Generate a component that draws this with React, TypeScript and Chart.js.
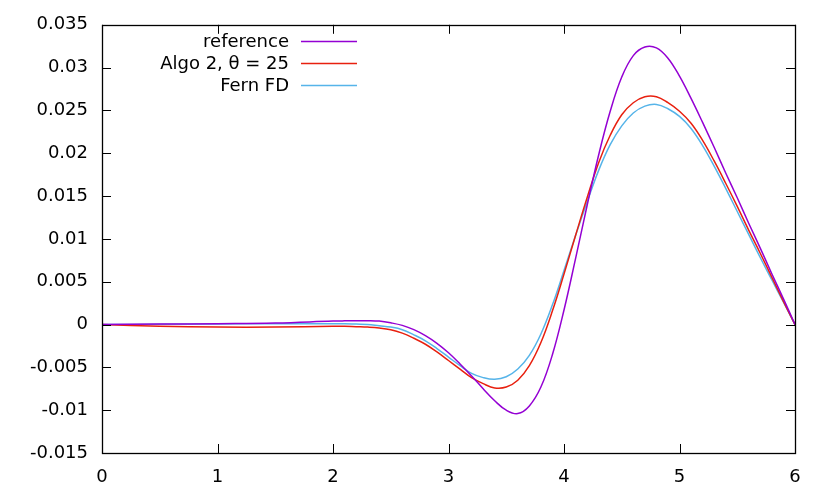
import React, { useEffect, useRef } from "react";
import { Chart, registerables } from "chart.js";

Chart.register(...registerables);

const xs = [0, 0.5, 1.0, 1.5, 2.0, 2.1, 2.2, 2.3, 2.4, 2.5, 2.6, 2.7, 2.8, 2.9, 3.0, 3.1, 3.2, 3.3, 3.4, 3.5, 3.6, 3.7, 3.8, 3.9, 4.0, 4.1, 4.2, 4.3, 4.4, 4.5, 4.6, 4.7, 4.8, 4.9, 5.0, 5.1, 5.2, 5.3, 5.4, 5.5, 5.6, 5.7, 5.8, 5.9, 6.0];

const referenceValues = [0, 0.00005, 0.0001, 0.00018, 0.0004, 0.00043, 0.00045, 0.00045, 0.0004, 0.0002, -0.0001, -0.0006, -0.0013, -0.0022, -0.0033, -0.0046, -0.006, -0.0075, -0.0089, -0.01, -0.0104, -0.0095, -0.0073, -0.0035, 0.0017, 0.0077, 0.0139, 0.0198, 0.0249, 0.0289, 0.0314, 0.0324, 0.0323, 0.0311, 0.029, 0.0264, 0.0236, 0.0207, 0.0177, 0.0148, 0.0118, 0.0089, 0.0059, 0.003, 0];

const algoValues = [0, -0.0002, -0.0003, -0.0003, -0.0002, -0.0002, -0.00025, -0.0003, -0.0004, -0.0006, -0.001, -0.0016, -0.0023, -0.0032, -0.0042, -0.0052, -0.0062, -0.0069, -0.0074, -0.0073, -0.0065, -0.0048, -0.0021, 0.0016, 0.0059, 0.0104, 0.0148, 0.0189, 0.0221, 0.0245, 0.0259, 0.0266, 0.0266, 0.0259, 0.0249, 0.0235, 0.0215, 0.0191, 0.0165, 0.0138, 0.011, 0.0083, 0.0055, 0.0027, 0];

const fernValues = [0, 0.00003, 0.00007, 0.0001, 0.0001, 0.0001, 0.00005, 0.0, -0.00015, -0.0003, -0.0006, -0.0012, -0.0019, -0.0028, -0.0038, -0.0048, -0.0057, -0.0062, -0.0064, -0.0061, -0.0052, -0.0036, -0.0011, 0.0023, 0.0063, 0.0104, 0.0143, 0.018, 0.021, 0.0232, 0.0247, 0.0255, 0.0257, 0.0252, 0.0243, 0.0229, 0.0209, 0.0185, 0.0159, 0.0132, 0.0105, 0.0078, 0.0052, 0.0026, 0];

const seriesLabels = ["reference", "Algo 2, θ = 25", "Fern FD"];
const seriesColors = ["#9400d3", "#e8200f", "#56b4e9"];

const xMin = 0;
const xMax = 6;
const xStep = 1;
const yMin = -0.015;
const yMax = 0.035;
const yStep = 0.005;

const FONT = "'DejaVu Sans', sans-serif";

const framePlugin = {
  id: "gnuFrame",
  afterDraw(chart: any) {
    const { ctx, chartArea } = chart;
    const { left, right, top, bottom } = chartArea;
    const xs_ = chart.scales.x;
    const ys_ = chart.scales.y;
    ctx.save();
    ctx.strokeStyle = "#000";
    ctx.lineWidth = 1;
    const tl = 9;
    ctx.beginPath();
    xs_.ticks.forEach((t: any) => {
      const px = Math.round(xs_.getPixelForValue(t.value)) + 0.5;
      ctx.moveTo(px, bottom);
      ctx.lineTo(px, bottom - tl);
      ctx.moveTo(px, top);
      ctx.lineTo(px, top + tl);
    });
    ys_.ticks.forEach((t: any) => {
      const py = Math.round(ys_.getPixelForValue(t.value)) + 0.5;
      ctx.moveTo(left, py);
      ctx.lineTo(left + tl, py);
      ctx.moveTo(right, py);
      ctx.lineTo(right - tl, py);
    });
    ctx.stroke();
    ctx.lineWidth = 1.3;
    ctx.strokeRect(Math.round(left) + 0.5, Math.round(top) + 0.5, Math.round(right - left), Math.round(bottom - top));

    // legend
    ctx.font = `18px ${FONT}`;
    ctx.textAlign = "right";
    ctx.textBaseline = "middle";
    chart.data.datasets.forEach((ds: any, i: number) => {
      const y = 41 + i * 22;
      ctx.fillStyle = "#000";
      ctx.fillText(ds.label, 289, y + 1);
      ctx.strokeStyle = ds.borderColor;
      ctx.lineWidth = 1.5;
      ctx.beginPath();
      ctx.moveTo(301, y + 0.5);
      ctx.lineTo(357, y + 0.5);
      ctx.stroke();
    });
    ctx.restore();
  },
};

export default function App() {
  const ref = useRef<HTMLCanvasElement | null>(null);
  useEffect(() => {
    if (!ref.current) return;
    const seriesValues = [referenceValues, algoValues, fernValues];
    const chart = new Chart(ref.current, {
      type: "line",
      data: {
        datasets: seriesValues.map((vals, i) => ({
          label: seriesLabels[i],
          data: xs.map((x, j) => ({ x, y: vals[j] })),
          borderColor: seriesColors[i],
          backgroundColor: seriesColors[i],
          borderWidth: 1.5,
          pointRadius: 0,
          tension: 0.4,
          fill: false,
        })),
      },
      options: {
        animation: false,
        responsive: false,
        devicePixelRatio: 1,
        layout: { padding: { top: 22, right: 35, left: 0, bottom: 0 } },
        plugins: { legend: { display: false }, tooltip: { enabled: false } },
        scales: {
          x: {
            type: "linear",
            min: xMin,
            max: xMax,
            grid: { display: false, drawTicks: false },
            border: { display: false },
            ticks: {
              stepSize: xStep,
              color: "#000",
              font: { family: FONT, size: 18 },
              padding: 14,
              maxRotation: 0,
            },
            afterFit: (s: any) => {
              s.height = 45;
            },
          },
          y: {
            type: "linear",
            min: yMin,
            max: yMax,
            grid: { display: false, drawTicks: false },
            border: { display: false },
            ticks: {
              stepSize: yStep,
              color: "#000",
              font: { family: FONT, size: 18 },
              padding: 14,
              callback: (v: any) => Number(Number(v).toFixed(3)).toString(),
            },
            afterFit: (s: any) => {
              s.width = 102;
            },
          },
        },
      },
      plugins: [framePlugin],
    });
    return () => chart.destroy();
  }, []);
  return (
    <div style={{ position: "absolute", left: 0, top: 0, width: 830, height: 498, background: "#fff" }}>
      <canvas ref={ref} width={830} height={498} />
    </div>
  );
}
